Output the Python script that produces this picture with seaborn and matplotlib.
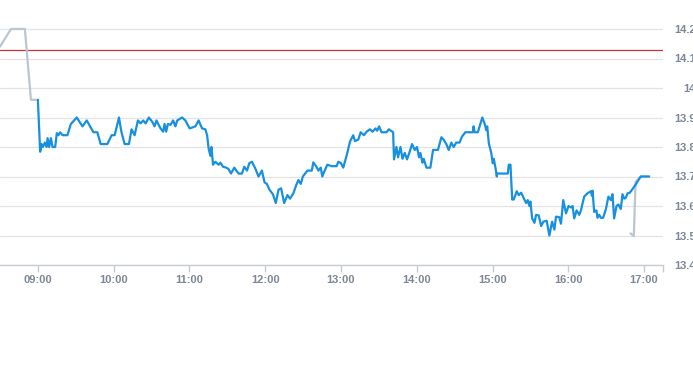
import matplotlib
matplotlib.use("Agg")
import matplotlib.pyplot as plt
import seaborn as sns
import pandas as pd

# minutes after 09:00 and price (main session, blue)
session_min = [0, 1.8, 2.9, 3.9, 5.5, 6.9, 7.7, 8.9, 10.3, 11.6, 13.7, 15.0, 16.3, 17.6, 19.5,
               23.4, 26.1, 30.8, 35.3, 38.7, 41.3, 44.0, 47.1, 49.7, 55.0, 58.4, 60.8, 64.2,
               66.1, 68.7, 72.1, 74.2, 76.6, 79.2, 81.3, 83.4, 85.3, 87.9, 90.6, 92.4, 93.9,
               97.1, 99.2, 100.3, 101.6, 102.9, 105.0, 107.1, 108.9, 110.3, 114.2, 116.8,
               120.2, 124.7, 127.3, 130.0, 132.6, 134.0, 135.2, 136.6, 137.4, 138.7, 140.5,
               143.1, 144.5, 146.6, 149.2, 151.0, 152.9, 155.5, 158.9, 161.6, 163.4, 165.6,
               167.4, 169.5, 172.1, 174.7, 177.4, 179.5, 181.3, 183.4, 186.1, 188.4, 190.5,
               192.6, 195.0, 197.6, 199.7, 202.3, 204.5, 206.3, 208.2, 209.8, 213.4, 216.9,
               218.1, 220.3, 222.1, 224.0, 225.2, 226.6, 229.2, 232.7, 236.6, 237.9, 240.0,
               241.8, 245.0, 247.1, 249.7, 251.1, 253.7, 255.6, 258.2, 260.3, 262.9, 265.0,
               267.4, 268.7, 270.2, 272.1, 276.1, 277.9, 281.3, 282.0, 283.9, 285.2, 287.1,
               288.7, 290.5, 292.3, 294.5, 296.3, 298.4, 300.2, 301.8, 302.9, 304.5, 305.5,
               307.7, 310.8, 312.9, 316.8, 319.5, 321.3, 323.4, 325.3, 327.4, 329.2, 331.3,
               333.9, 335.8, 338.5, 344.5, 345.0, 345.8, 348.4, 351.9, 353.7, 355.0, 355.8,
               357.1, 359.0, 360.2, 361.0, 362.4, 363.4, 363.7, 372.1, 372.9, 374.2, 375.6,
               376.8, 379.2, 380.8, 382.7, 385.3, 386.6, 387.9, 389.2, 390.0, 391.4, 393.2,
               394.5, 396.6, 398.5, 400.3, 402.9, 405.0, 407.2, 409.0, 410.3, 412.9, 414.2,
               416.0, 418.2, 420.2, 422.1, 423.4, 424.7, 426.6, 428.7, 430.0, 432.6, 435.2,
               437.9, 438.7, 439.2, 440.5, 442.3, 443.1, 444.5, 445.8, 447.6, 449.8, 451.8,
               453.7, 455.0, 456.3, 458.2, 459.7, 461.6, 462.9, 464.3, 465.6, 466.9, 468.7,
               470.8, 472.9, 474.7, 477.4, 478.7, 484.0]
session_px = [13.96, 13.784, 13.81, 13.80, 13.815, 13.80, 13.83, 13.80, 13.83, 13.80, 13.80,
              13.847, 13.84, 13.85, 13.84, 13.84, 13.878, 13.90, 13.87, 13.89, 13.87, 13.85,
              13.85, 13.81, 13.81, 13.84, 13.84, 13.90, 13.852, 13.81, 13.81, 13.86, 13.84,
              13.89, 13.88, 13.89, 13.88, 13.90, 13.885, 13.87, 13.89, 13.863, 13.852, 13.878,
              13.852, 13.878, 13.875, 13.89, 13.87, 13.89, 13.90, 13.89, 13.863, 13.87, 13.89,
              13.863, 13.86, 13.84, 13.795, 13.77, 13.80, 13.74, 13.75, 13.74, 13.747, 13.733,
              13.73, 13.725, 13.71, 13.73, 13.71, 13.71, 13.733, 13.72, 13.745, 13.75, 13.728,
              13.70, 13.72, 13.68, 13.675, 13.655, 13.64, 13.61, 13.655, 13.66, 13.61, 13.637,
              13.625, 13.643, 13.67, 13.688, 13.675, 13.70, 13.72, 13.72, 13.748, 13.735, 13.72,
              13.73, 13.70, 13.715, 13.74, 13.735, 13.735, 13.75, 13.745, 13.73, 13.779, 13.818,
              13.84, 13.82, 13.825, 13.85, 13.84, 13.852, 13.86, 13.852, 13.863, 13.855, 13.87,
              13.85, 13.85, 13.86, 13.85, 13.758, 13.80, 13.765, 13.80, 13.76, 13.78, 13.758,
              13.785, 13.81, 13.79, 13.80, 13.765, 13.78, 13.747, 13.76, 13.73, 13.73, 13.79,
              13.79, 13.833, 13.825, 13.81, 13.79, 13.815, 13.80, 13.815, 13.815, 13.835, 13.85,
              13.85, 13.87, 13.85, 13.85, 13.90, 13.88, 13.857, 13.87, 13.812, 13.78, 13.745,
              13.76, 13.728, 13.70, 13.71, 13.71, 13.74, 13.74, 13.622, 13.622, 13.65, 13.637,
              13.645, 13.622, 13.61, 13.62, 13.60, 13.615, 13.558, 13.543, 13.57, 13.568,
              13.532, 13.547, 13.55, 13.50, 13.547, 13.52, 13.564, 13.562, 13.54, 13.62,
              13.575, 13.60, 13.595, 13.60, 13.558, 13.585, 13.57, 13.585, 13.632, 13.643,
              13.65, 13.635, 13.652, 13.58, 13.585, 13.56, 13.57, 13.56, 13.56, 13.59, 13.632,
              13.62, 13.64, 13.558, 13.60, 13.605, 13.59, 13.64, 13.625, 13.628, 13.643,
              13.645, 13.657, 13.67, 13.682, 13.70, 13.70, 13.70]

# pre-market and after-hours (grey)
pre_min = [-30.0, -21.3, -10.3, -5.5, 0.0]
pre_px = [14.14, 14.20, 14.20, 13.96, 13.96]
post_min = [469.3, 471.9, 473.3, 477.4, 484.0]
post_px = [13.507, 13.498, 13.682, 13.70, 13.70]

ref_price = 14.13
y_ticks = [13.4, 13.5, 13.6, 13.7, 13.8, 13.9, 14.0, 14.1, 14.2]
y_labels = ["13.4", "13.5", "13.6", "13.7", "13.8", "13.9", "14", "14.1", "14.2"]
x_ticks_min = [0, 60, 120, 180, 240, 300, 360, 420, 480]
x_labels = ["09:00", "10:00", "11:00", "12:00", "13:00", "14:00", "15:00", "16:00", "17:00"]

sns.set_style("white")
plt.rcParams['font.family'] = ['Liberation Sans', 'DejaVu Sans']

fig = plt.figure(figsize=(6.93, 3.65), dpi=100)
ax = fig.add_axes([0.0, 1 - 265 / 365, 663 / 693, 265 / 365])

grid_c = "#e3e3e3"
for yv in y_ticks:
    ax.axhline(yv, color=grid_c, lw=0.9, zorder=0)

ax.axhline(ref_price, color="#cc3333", lw=0.9, zorder=1)

gray_c = "#bcc6cf"
blue_c = "#1790df"
sns.lineplot(x=pre_min, y=pre_px, ax=ax, color=gray_c, lw=1.6, estimator=None, zorder=2)
sns.lineplot(x=post_min, y=post_px, ax=ax, color=gray_c, lw=1.6, estimator=None, zorder=2)
sns.lineplot(x=session_min, y=session_px, ax=ax, color=blue_c, lw=1.6, estimator=None, zorder=3)

ax.set_xlim(-30, 495)
ax.set_ylim(13.4, 13.4 + 265 / 295)

for s in ["top", "left", "right"]:
    ax.spines[s].set_visible(False)
ax.spines["bottom"].set_color("#c6ccd6")
ax.spines["bottom"].set_linewidth(1.0)

label_c = "#7d8796"
ax.set_xticks(x_ticks_min)
ax.set_xticklabels(x_labels)
ax.set_xticks([495], minor=True)
ax.tick_params(axis="x", which="both", length=5, width=1, color="#c6ccd6", direction="out",
               pad=2.5, labelsize=8, labelcolor=label_c, bottom=True)

ax.yaxis.tick_right()
ax.set_yticks(y_ticks)
ax.set_yticklabels(y_labels)
ax.tick_params(axis="y", length=0, pad=23.5, labelsize=8, labelcolor=label_c)
for lbl in ax.get_yticklabels():
    lbl.set_horizontalalignment("right")
for lbl in ax.get_xticklabels() + ax.get_yticklabels():
    lbl.set_fontweight("bold")

ax.set_xlabel("")
ax.set_ylabel("")
ax.grid(False)

fig.savefig("out.png", dpi=100)
